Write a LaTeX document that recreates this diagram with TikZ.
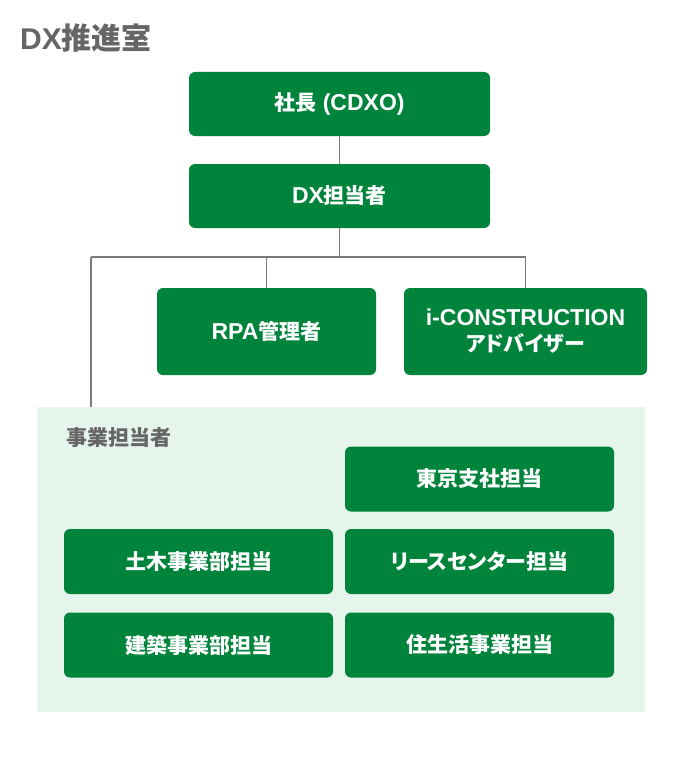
\documentclass[tikz,border=0pt]{standalone}
\usepackage{fontspec}
\setmainfont{Noto Sans CJK JP}[RawFeature=+palt]
\newfontfamily\latinfont{Liberation Sans}
\newcommand{\lt}[1]{{\latinfont\fontsize{23}{25}\selectfont #1}}
\newcommand{\ltt}[1]{{\latinfont\fontsize{30}{32}\selectfont #1}}
\definecolor{dxgreen}{HTML}{00843C}
\definecolor{areagreen}{HTML}{E6F5EC}
\definecolor{linegray}{HTML}{7A7A7A}
\definecolor{titlegray}{HTML}{666666}
\begin{document}
\begin{tikzpicture}[x=1pt,y=-1pt,
  box/.style={fill=dxgreen, rounded corners=6pt, text=white,
    font=\bfseries\fontsize{21}{25}\selectfont, align=center, inner sep=0pt},
  conn/.style={draw=linegray, line width=1.4pt}]
\useasboundingbox (0,0) rectangle (680,760);
\fill[white] (0,0) rectangle (680,760);
\node[anchor=west, text=titlegray, font=\bfseries\fontsize{30}{32}\selectfont, inner sep=0pt] (title) at (20,38) {\ltt{DX}推進室};

\node[box, minimum width=301pt, minimum height=64pt] (ceo) at (339.5,104) {社長\lt{ (CDXO)}};
\node[box, minimum width=301pt, minimum height=64pt] (dx) at (339.5,196) {\lt{DX}担当者};
\node[box, minimum width=219pt, minimum height=87pt] (rpa) at (266.5,331.5) {\lt{RPA}管理者};
\node[box, minimum width=243pt, minimum height=87pt] (ic) at (525.5,331.5) {\lt{i-CONSTRUCTION}\\[1pt]アドバイザー};

\node[fill=areagreen, minimum width=608pt, minimum height=305pt, inner sep=0pt] (area) at (341,559.5) {};
\node[anchor=west, text=titlegray, font=\bfseries\fontsize{21}{24}\selectfont, inner sep=0pt] (arealbl) at (66,438) {事業担当者};

\node[box, minimum width=269pt, minimum height=65pt] (tokyo) at (479.5,479) {東京支社担当};
\node[box, minimum width=269pt, minimum height=65pt] (doboku) at (198.5,561.5) {土木事業部担当};
\node[box, minimum width=269pt, minimum height=65pt] (lease) at (479.5,561.5) {リースセンター担当};
\node[box, minimum width=269pt, minimum height=65pt] (kenchiku) at (198.5,645) {建築事業部担当};
\node[box, minimum width=269pt, minimum height=65pt] (jyu) at (479.5,645) {住生活事業担当};

\coordinate (hl) at (91,257);
\coordinate (hr) at (526,257);
\draw[conn] (ceo.south) -- (dx.north);
\draw[conn] (dx.south) -- (dx.south |- hl);
\draw[conn] (hl) -- (hr);
\draw[conn] (rpa.north) -- (rpa.north |- hl);
\draw[conn] (ic.north) -- (ic.north |- hl);
\draw[conn] (hl) -- (hl |- area.north);
\end{tikzpicture}
\end{document}
